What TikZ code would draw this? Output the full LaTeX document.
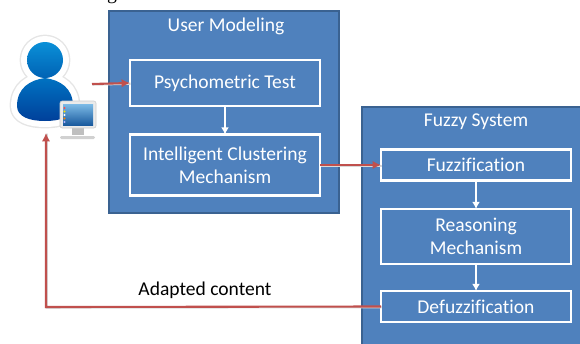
\documentclass[tikz,border=0pt]{standalone}
\usepackage{fontspec}
\setmainfont{Carlito}[Ligatures=NoCommon]
\newfontfamily\captionfont{Liberation Serif}
\usetikzlibrary{positioning}
\usetikzlibrary{arrows.meta}
\definecolor{panelblue}{HTML}{4F81BD}
\definecolor{paneledge}{HTML}{3A6291}
\definecolor{linkred}{HTML}{C0504D}
\definecolor{headtop}{HTML}{0A90D8}
\definecolor{headlow}{HTML}{0062B4}
\definecolor{bodytop}{HTML}{0072C2}
\definecolor{bodylow}{HTML}{00409A}
\definecolor{screentop}{HTML}{7DBBE6}
\definecolor{screenlow}{HTML}{1A5A9E}
\tikzset{
 panel/.style={draw=paneledge,fill=panelblue,line width=1.2pt,inner sep=0pt,outer sep=0pt},
 stagebox/.style={draw=white,fill=panelblue,line width=2pt,text=white,align=center,inner sep=0pt,outer sep=0pt,
   minimum width=190*0.25mm,font=\fontsize{13.9}{16.5}\selectfont},
 title/.style={text=white,inner sep=0pt,font=\fontsize{13.9}{16.5}\selectfont},
 whitearrow/.style={draw=white,line width=1.3pt,-{Latex[length=5pt,width=5.5pt]}},
 redarrow/.style={draw=linkred,line width=1.5pt,-{Latex[length=6pt,width=6pt]},
   preaction={draw=black!15,-,line width=1.5pt,transform canvas={shift={(0.5pt,-0.5pt)}}}},
}
\begin{document}
\begin{tikzpicture}[x=0.25mm,y=-0.25mm]
 \useasboundingbox (0,0) rectangle (580,343);
 % cut off caption above the figure
 \begin{scope}
 \clip (90,0) rectangle (130,4);
 \node[inner sep=0pt,font=\captionfont\fontsize{14}{16}\selectfont] (cutoff) at (112,-3.5) {g};
 \end{scope}
 % panels
 \node[panel,minimum width=230*0.25mm,minimum height=202*0.25mm] (usermodel) at (224,112) {};
 \node[panel,minimum width=228*0.25mm,minimum height=248*0.25mm] (fuzzysys) at (476,231) {};
 \node[title] (usertitle) at (226,26) {User Modeling};
 \node[title] (fuzzytitle) at (476,122) {Fuzzy System};
 % stages
 \node[stagebox,minimum height=46*0.25mm] (psych) at (225,83) {Psychometric Test};
 \node[stagebox,minimum height=61*0.25mm] (cluster) at (225,165) {Intelligent Clustering\\Mechanism};
 \node[stagebox,minimum height=31*0.25mm] (fuzzif) at (476,165) {Fuzzification};
 \node[stagebox,minimum height=55*0.25mm] (reason) at (476,236.5) {Reasoning\\Mechanism};
 \node[stagebox,minimum height=31*0.25mm] (defuzz) at (476,306.5) {Defuzzification};
 % person
 \draw[draw=black!10,line width=10.5pt,line join=round,fill=black!10] (45,60) circle (18);
 \draw[draw=black!10,line width=10.5pt,line join=round,fill=black!10] (17,106) .. controls (17,88) and (30,80) .. (45,78) .. controls (60,80) and (73,88) .. (73,106) .. controls (73,117) and (60,121) .. (45,121) .. controls (30,121) and (17,117) .. (17,106) -- cycle;
 \draw[draw=white,line width=8.5pt,line join=round,fill=white] (45,60) circle (18);
 \draw[draw=white,line width=8.5pt,line join=round,fill=white] (17,106) .. controls (17,88) and (30,80) .. (45,78) .. controls (60,80) and (73,88) .. (73,106) .. controls (73,117) and (60,121) .. (45,121) .. controls (30,121) and (17,117) .. (17,106) -- cycle;
 \shade[top color=headtop,bottom color=headlow] (45,60) circle (18);
 \shade[top color=bodytop,bottom color=bodylow] (17,106) .. controls (17,88) and (30,80) .. (45,78) .. controls (60,80) and (73,88) .. (73,106) .. controls (73,117) and (60,121) .. (45,121) .. controls (30,121) and (17,117) .. (17,106) -- cycle;
 % monitor
 \fill[black!25] (72,127) rectangle (84,135);
 \fill[black!18,rounded corners=1pt] (60,136) rectangle (95,139);
 \fill[black!8,draw=black!20,rounded corners=1.5pt] (60,101) rectangle (96,128);
 \shade[top color=screentop,bottom color=screenlow] (63,104) rectangle (93,125);
 \foreach \dotcol/\doty in {red!70/108,yellow!80!orange/111.5,white/115,orange/118.5,white!70!blue/122}
   \fill[\dotcol] (64.5,\doty) circle (1.1);
 % links
 \coordinate (userout) at (92,84);
 \coordinate (userin) at (46,133);
 \coordinate (corner) at (46,307);
 \draw[redarrow] (userout) -- (psych.west);
 \draw[redarrow] (cluster.east) -- (fuzzif.west);
 \draw[redarrow] (defuzz.west) -- (corner) -- (userin);
 \draw[whitearrow] (psych) -- (cluster);
 \draw[whitearrow] (fuzzif) -- (reason);
 \draw[whitearrow] (reason) -- (defuzz);
 \node[inner sep=0pt,font=\fontsize{13.9}{16.5}\selectfont] (adapted) at (205,290) {Adapted content};
\end{tikzpicture}
\end{document}
